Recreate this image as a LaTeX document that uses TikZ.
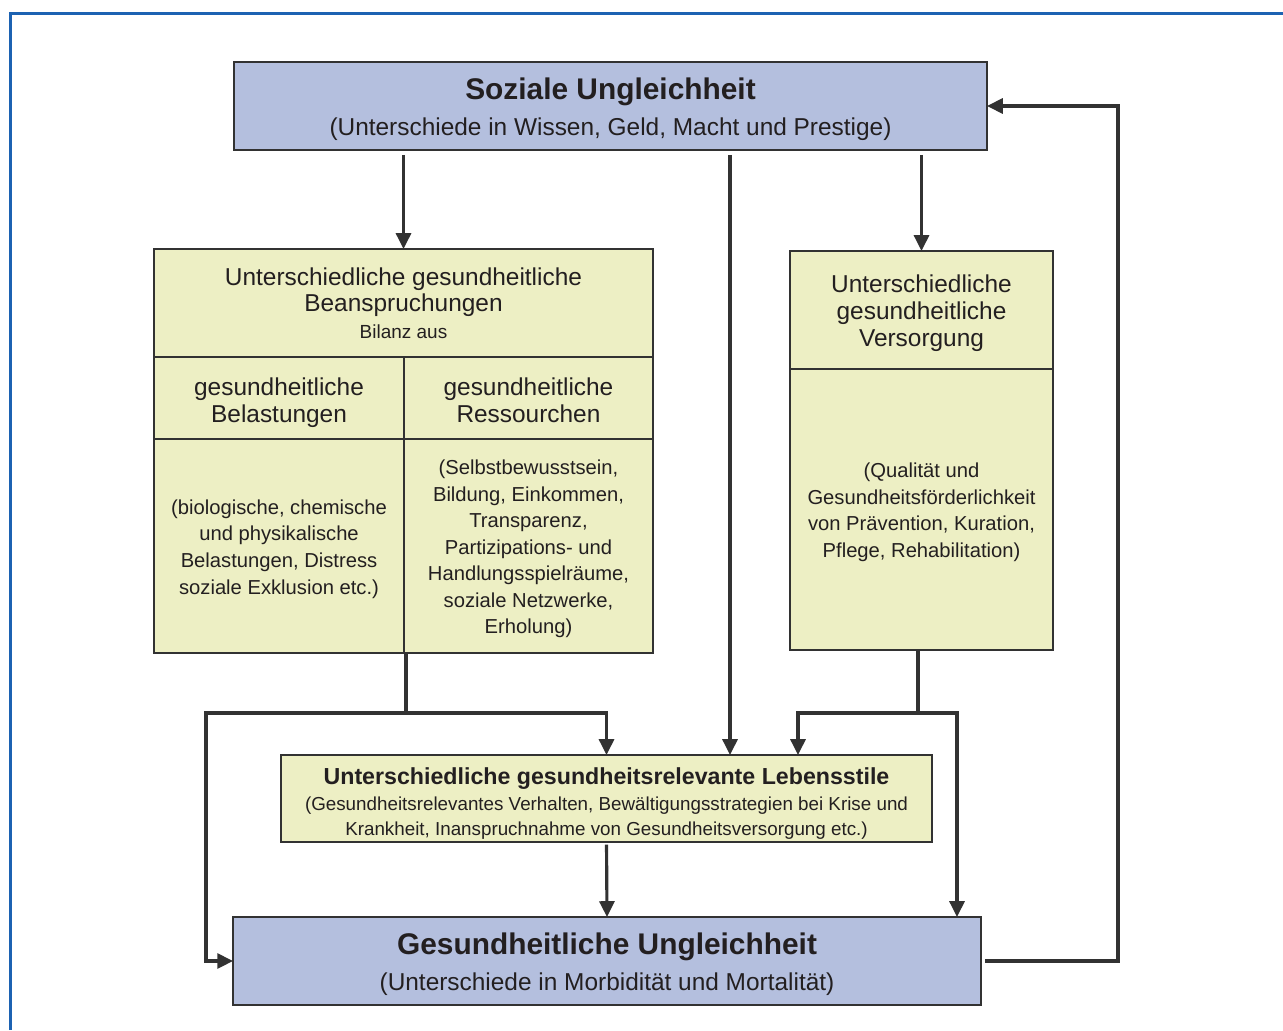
\documentclass[tikz,border=0pt]{standalone}
\usepackage{fontspec}
\setmainfont{Liberation Sans}
\usepackage{xcolor}
\usepackage{tikz}
\usetikzlibrary{positioning}
\usetikzlibrary{arrows.meta}
\definecolor{boxblue}{RGB}{180,191,222}
\definecolor{boxgreen}{RGB}{237,239,196}
\definecolor{framebl}{RGB}{28,98,178}
\definecolor{linegray}{RGB}{50,50,50}
\definecolor{textgray}{RGB}{35,31,32}

\begin{document}
\begin{tikzpicture} [x = 0.02cm, y = -0.02cm, inner sep = 0pt, outer sep = 0pt,
  ubox/.style = {draw = linegray, line width = 1pt, fill = boxblue, text = textgray, align = center, font = \fontsize{13.9}{20}\selectfont},
  gbox/.style = {draw = linegray, line width = 1pt, fill = boxgreen, text = textgray, align = center, font = \fontsize{13.9}{15.2}\selectfont},
  small/.style = {font = \fontsize{11.5}{15.1}\selectfont},
  edge/.style = {->, > = {Triangle[length = 9pt, width = 8.5pt]}, line width = 1.8pt, draw = linegray},
  link/.style = {line width = 1.8pt, draw = linegray}]
    \useasboundingbox (0,0) rectangle (1283,1030);
    \draw[framebl, line width = 1.7pt] (10.5,1030) -- (10.5,13.5) -- (1283,13.5);

    \node[ubox, minimum width = 15.06cm, minimum height = 1.76cm] (soz) at (610.5,106)
        {{\fontsize{17}{20}\selectfont\bfseries\rule{0pt}{16pt}Soziale Ungleichheit}\\(Unterschiede in Wissen, Geld, Macht und Prestige)};
    \node[gbox, minimum width = 9.98cm, minimum height = 2.16cm] (beans) at (403.5,303)
        {Unterschiedliche gesundheitliche\\Beanspruchungen\\{\fontsize{10.8}{14}\selectfont Bilanz aus}};
    \node[gbox, minimum width = 5cm, minimum height = 1.64cm, below = 0pt of beans.south west, anchor = north west] (belhead)
        {\rule{0pt}{15.2pt}gesundheitliche\\Belastungen};
    \node[gbox, minimum width = 4.98cm, minimum height = 1.64cm, right = 0pt of belhead] (reshead)
        {\rule{0pt}{12.4pt}gesundheitliche\\Ressourchen};
    \node[gbox, small, minimum width = 5cm, minimum height = 4.28cm, below = 0pt of belhead] (belbody)
        {\rule{0pt}{11.8pt}(biologische, chemische\\und physikalische\\Belastungen, Distress\\soziale Exklusion etc.)};
    \node[gbox, small, minimum width = 4.98cm, minimum height = 4.28cm, below = 0pt of reshead] (resbody)
        {\rule{0pt}{11.8pt}(Selbstbewusstsein,\\Bildung, Einkommen,\\Transparenz,\\Partizipations- und\\Handlungsspielräume,\\soziale Netzwerke,\\Erholung)};
    \node[gbox, minimum width = 5.26cm, minimum height = 2.36cm] (vershead) at (921.5,310)
        {\rule{0pt}{13.5pt}Unterschiedliche\\gesundheitliche\\Versorgung};
    \node[gbox, small, minimum width = 5.26cm, minimum height = 5.62cm, below = 0pt of vershead] (versbody)
        {\rule{0pt}{11.8pt}(Qualität und\\Gesundheitsförderlichkeit\\von Prävention, Kuration,\\Pflege, Rehabilitation)};
    \node[gbox, font = \fontsize{10.7}{14.3}\selectfont, minimum width = 13.02cm, minimum height = 1.74cm] (leb) at (606.5,798.5)
        {{\fontsize{13.2}{14.3}\selectfont\bfseries\rule{0pt}{15pt}Unterschiedliche gesundheitsrelevante Lebensstile}\\[0.5pt](Gesundheitsrelevantes Verhalten, Bewältigungsstrategien bei Krise und\\Krankheit, Inanspruchnahme von Gesundheitsversorgung etc.)};
    \node[ubox, minimum width = 14.96cm, minimum height = 1.76cm] (ges) at (607,961)
        {{\fontsize{17}{20}\selectfont\bfseries\rule{0pt}{16pt}Gesundheitliche Ungleichheit}\\(Unterschiede in Morbidität und Mortalität)};

    \coordinate (mid) at (730,0);
    \coordinate (lj) at (406,713);
    \coordinate (lx) at (206,713);
    \coordinate (rj) at (918,713);
    \coordinate (rl) at (798,713);
    \coordinate (rr) at (957,713);
    \coordinate (fb) at (1118,0);

    \foreach \i in {beans, vershead} {
        \draw[edge, shorten < = 2.8pt] (soz.south -| \i) -- (\i.north);
    }
    \draw[edge, shorten < = 2.8pt] (soz.south -| mid) -- (leb.north -| mid);
    \draw[link] (belbody.south -| lj) -- (lj);
    \draw[edge] (lx) -- (lj) -| (leb.north);
    \draw[edge] (lj) -- (lx) |- (ges.west);
    \draw[link] (versbody.south -| rj) -- (rj);
    \draw[edge] (rj) -- (rl) -- (rl |- leb.north);
    \draw[edge] (rj) -- (rr) -- (rr |- ges.north);
    \draw[edge, shorten < = 1.5pt] (leb.south) -- (ges.north);
    \draw[edge, shorten < = 2.2pt] (ges.east) -- (ges.east -| fb) |- (soz.east);
\end{tikzpicture}
\end{document}
